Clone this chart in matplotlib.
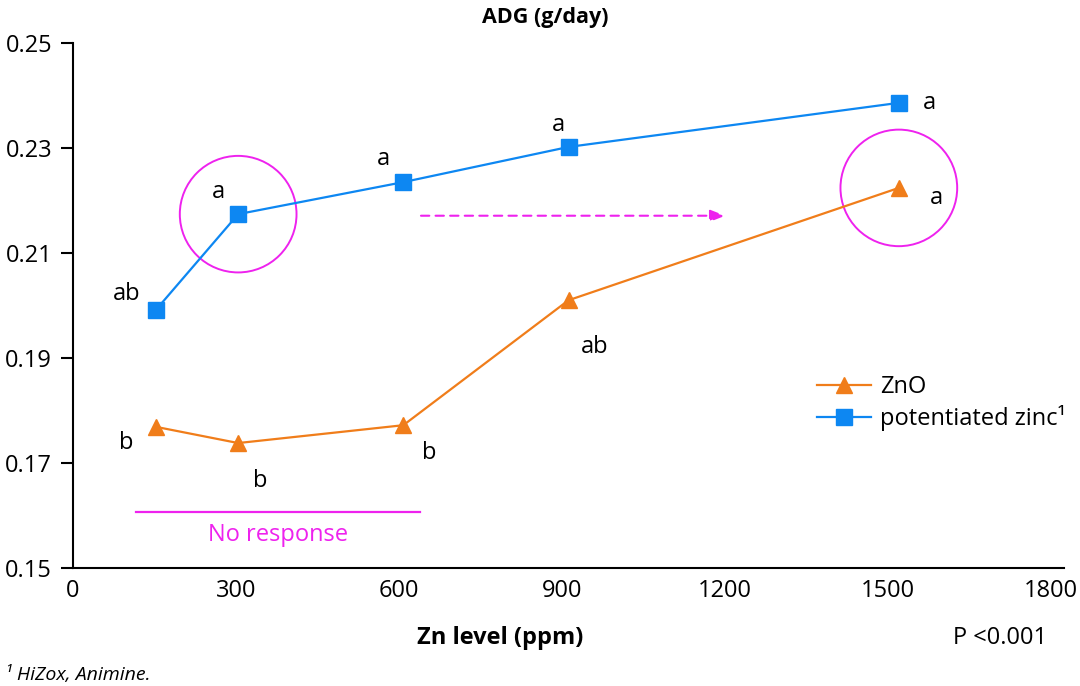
import matplotlib
matplotlib.use('Agg')
import matplotlib.pyplot as plt
from matplotlib.patches import Ellipse

plt.rcParams['font.family'] = ['Open Sans', 'DejaVu Sans']

#data
zn_level = [150, 300, 600, 900, 1500]
adg_zno = [0.1769, 0.1738, 0.1772, 0.2010, 0.2224]
adg_potentiated = [0.1991, 0.2174, 0.2235, 0.2302, 0.2386]
letters_zno = ['b', 'b', 'b', 'ab', 'a']
letters_potentiated = ['ab', 'a', 'a', 'a', 'a']
x_ticks = [0, 300, 600, 900, 1200, 1500, 1800]
y_ticks = [0.15, 0.17, 0.19, 0.21, 0.23, 0.25]

orange = '#F07D1A'
blue = '#0D87F2'
magenta = '#EE22EE'
fs = 17

fig = plt.figure(figsize=(10.8, 6.86), dpi=100)
ax = fig.add_axes([73/1080, 1-568/686, (1064-73)/1080, (568-43)/686])

ax.plot(zn_level, adg_zno, color=orange, lw=1.6, marker='^', ms=12,
        label='ZnO')
ax.plot(zn_level, adg_potentiated, color=blue, lw=1.6, marker='s', ms=11,
        label='potentiated zinc\u00b9')

#significance letters (offsets in points)
off_zno = [(-21, -12), (16, -27), (19, -20), (19, -34), (27, -7)]
off_pot = [(-21, 12), (-14, 16), (-14, 17), (-7, 16), (22, 0)]
for i in range(len(zn_level)):
    ax.annotate(letters_zno[i], (zn_level[i], adg_zno[i]), xytext=off_zno[i],
                textcoords='offset points', ha='center', va='center', fontsize=fs)
    ax.annotate(letters_potentiated[i], (zn_level[i], adg_potentiated[i]),
                xytext=off_pot[i], textcoords='offset points',
                ha='center', va='center', fontsize=fs)

#highlight circles
for cx, cy in [(zn_level[1], adg_potentiated[1]), (zn_level[4], adg_zno[4])]:
    ax.add_patch(Ellipse((cx, cy), 212, 0.0222, fill=False, ec=magenta, lw=1.4))

#dashed arrow
ax.annotate('', xy=(1190, 0.2171), xytext=(627, 0.2171),
            arrowprops=dict(arrowstyle='-|>,head_length=0.9,head_width=0.35',
                            color=magenta, lw=1.5, ls=(0, (4, 3))))

#no response bar
ax.plot([114, 630], [0.1607, 0.1607], color=magenta, lw=1.6)
ax.text(372, 0.1562, 'No response', color=magenta, fontsize=fs,
        ha='center', va='center')

ax.set_xlim(0, 1800)
ax.set_ylim(0.15, 0.25)
#tick labels sit a little left of their values in the reference
ax.set_xticks([t*0.987 for t in x_ticks])
ax.set_xticklabels([str(t) for t in x_ticks])
ax.set_yticks(y_ticks)
ax.set_yticklabels(['%.2f' % v for v in y_ticks])
ax.tick_params(axis='x', length=0, pad=8, labelsize=fs)
ax.tick_params(axis='y', length=9, width=1.5, pad=6, labelsize=fs)
ax.spines['top'].set_visible(False)
ax.spines['right'].set_visible(False)
ax.spines['left'].set_linewidth(1.5)
ax.spines['bottom'].set_linewidth(1.5)

ax.legend(loc='upper left', bbox_to_anchor=(0.729, 0.408), frameon=False,
          fontsize=fs, handlelength=2.3, labelspacing=0.25, handletextpad=0.4)

fig.text(545/1080, 1-18/686, 'ADG (g/day)', fontsize=15.5, fontweight='bold',
         ha='center', va='center')
fig.text(500/1080, 1-638/686, 'Zn level (ppm)', fontsize=fs, fontweight='bold',
         ha='center', va='center')
fig.text(1000/1080, 1-638/686, 'P <0.001', fontsize=fs, ha='center', va='center')
fig.text(5/1080, 1-675/686, '\u00b9 HiZox, Animine.', fontsize=14, style='italic',
         ha='left', va='center')

fig.savefig('out.png', dpi=100)
